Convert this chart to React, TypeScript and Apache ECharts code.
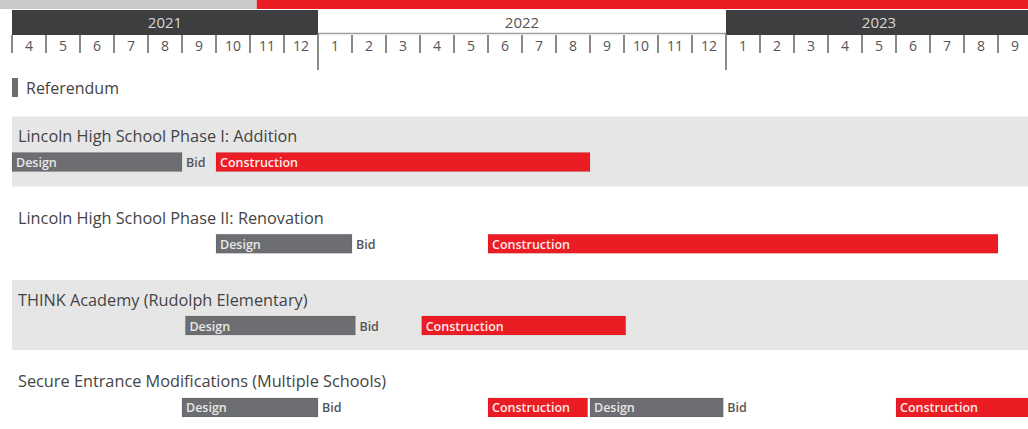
import React, { useEffect, useRef } from 'react';
import * as echarts from 'echarts';

// ---------- data ----------
const months = ['4', '5', '6', '7', '8', '9', '10', '11', '12', '1', '2', '3', '4', '5', '6', '7', '8', '9', '10', '11', '12', '1', '2', '3', '4', '5', '6', '7', '8', '9'];
const years = ['2021', '2022', '2023'];
const yearStart = [0, 9, 21];
const yearEnd = [9, 21, 30];
const referendumProgress = 7.2; // months since Apr 2021

const projects = [
  'Lincoln High School Phase I: Addition',
  'Lincoln High School Phase II: Renovation',
  'THINK Academy (Rudolph Elementary)',
  'Secure Entrance Modifications (Multiple Schools)',
];

// month offsets from April 2021
const designRow = [0, 1, 2, 3, 3];
const designStart = [0, 6, 5.1, 5, 17];
const designEnd = [5, 10, 10.1, 9, 20.92];

const constructionRow = [0, 1, 2, 3, 3];
const constructionStart = [6, 14, 12.05, 14, 26];
const constructionEnd = [17, 29, 18.05, 16.93, 30];

// ---------- style ----------
const FONT = '"Open Sans", "Noto Sans", sans-serif';
const GRAY_BAR = '#6d6e71';
const RED = '#ec1c24';
const DARK = '#3e3e40';
const BAND = '#e6e6e6';
const TEXT = '#444444';

export default function App() {
  const ref = useRef<HTMLDivElement>(null);

  useEffect(() => {
    if (!ref.current) return;
    const chart = echarts.init(ref.current, undefined, { renderer: 'svg' });

    const rowBandHeight = 70;
    const barOffset = 35;
    const barHeight = 19;

    const rowTop = (api: any, row: number, x: number) => {
      const c = api.coord([x, row]);
      const bh = api.size([0, 1])[1];
      return [c[0], c[1] - bh / 2];
    };

    const taskRender = (label: string, color: string, labelColor: string, withBid: boolean) => (params: any, api: any) => {
      const row = api.value(2);
      const s = rowTop(api, row, api.value(0));
      const e = rowTop(api, row, api.value(1));
      const top = s[1] + barOffset;
      const children: any[] = [
        {
          type: 'rect',
          shape: { x: s[0], y: top, width: e[0] - s[0], height: barHeight },
          style: { fill: color, stroke: 'rgba(0,0,0,0.08)', lineWidth: 1 },
        },
        {
          type: 'text',
          x: s[0] + 4,
          y: top + barHeight / 2 + 0.5,
          style: { text: label, fill: labelColor, fontSize: 12.5, fontWeight: 600, fontFamily: FONT, align: 'left', verticalAlign: 'middle' },
        },
      ];
      if (withBid) {
        children.push({
          type: 'text',
          x: e[0] + 4,
          y: top + barHeight / 2 + 0.5,
          style: { text: 'Bid', fill: '#555555', fontSize: 12.5, fontWeight: 600, fontFamily: FONT, align: 'left', verticalAlign: 'middle' },
        });
      }
      return { type: 'group', children };
    };

    const option: any = {
      animation: false,
      backgroundColor: '#ffffff',
      legend: {
        left: 12,
        top: 78,
        padding: 0,
        icon: 'rect',
        itemWidth: 6,
        itemHeight: 19,
        selectedMode: false,
        data: [{ name: 'Referendum', itemStyle: { color: GRAY_BAR } }],
        textStyle: { fontSize: 16, color: TEXT, fontFamily: FONT, padding: [0, 0, 0, 3] },
      },
      grid: [
        { left: 12, width: 1020, top: 117.5, height: 311.5, outerBoundsMode: 'none', containLabel: false },
        { left: 12, width: 1020, top: 35, height: 18, outerBoundsMode: 'none', containLabel: false },
      ],
      xAxis: [
        { type: 'value', gridIndex: 0, min: 0, max: 30, show: false },
        {
          type: 'category',
          gridIndex: 1,
          position: 'top',
          data: months,
          boundaryGap: true,
          axisLine: { show: false, onZero: false },
          axisTick: { show: true, inside: true, length: 18, interval: 0, lineStyle: { color: '#8a8a8a', width: 2 } },
          axisLabel: {
            inside: true,
            interval: 0,
            margin: 10,
            verticalAlign: 'middle',
            color: '#555555',
            fontSize: 14,
            fontFamily: FONT,
          },
          splitLine: { show: false },
        },
        { type: 'value', gridIndex: 1, min: 0, max: 30, show: false },
      ],
      yAxis: [
        { type: 'value', gridIndex: 0, min: -0.5, max: 3.308, inverse: true, show: false },
        { type: 'value', gridIndex: 1, min: 0, max: 1, show: false },
      ],
      series: [
        {
          type: 'custom',
          name: 'rows',
          xAxisIndex: 0,
          yAxisIndex: 0,
          silent: true,
          data: projects.map((name, i) => ({ name, value: [0, i] })),
          renderItem: (params: any, api: any) => {
            const row = api.value(1);
            const t = rowTop(api, row, 0);
            const children: any[] = [];
            if (row % 2 === 0) {
              children.push({
                type: 'rect',
                shape: { x: t[0], y: t[1] - 1, width: params.coordSys.width + 10, height: rowBandHeight },
                style: { fill: BAND },
              });
            }
            children.push({
              type: 'text',
              x: t[0] + 6,
              y: t[1] + 18.5,
              style: { text: projects[row], fill: TEXT, fontSize: 16.3, fontFamily: FONT, align: 'left', verticalAlign: 'middle' },
            });
            return { type: 'group', children };
          },
        },
        {
          type: 'custom',
          name: 'Design',
          xAxisIndex: 0,
          yAxisIndex: 0,
          silent: true,
          data: designStart.map((s, i) => [s, designEnd[i], designRow[i]]),
          renderItem: taskRender('Design', GRAY_BAR, '#e8e8e8', true),
        },
        {
          type: 'custom',
          name: 'Construction',
          xAxisIndex: 0,
          yAxisIndex: 0,
          silent: true,
          data: constructionStart.map((s, i) => [s, constructionEnd[i], constructionRow[i]]),
          renderItem: taskRender('Construction', RED, '#fbeaea', false),
        },
        {
          type: 'custom',
          name: 'Referendum',
          xAxisIndex: 2,
          yAxisIndex: 1,
          silent: true,
          data: [[referendumProgress, 0]],
          renderItem: (params: any, api: any) => {
            const p = api.coord([api.value(0), 0]);
            const gy = params.coordSys.y;
            return {
              type: 'group',
              children: [
                { type: 'rect', shape: { x: 0, y: gy - 35, width: p[0], height: 9 }, style: { fill: '#c9c9c9' } },
                { type: 'rect', shape: { x: p[0], y: gy - 35, width: 1100, height: 9 }, style: { fill: RED } },
              ],
            };
          },
        },
        {
          type: 'custom',
          name: 'years',
          xAxisIndex: 2,
          yAxisIndex: 1,
          silent: true,
          data: years.map((y, i) => ({ name: y, value: [yearStart[i], yearEnd[i], i] })),
          renderItem: (params: any, api: any) => {
            const idx = api.value(2);
            const s = api.coord([api.value(0), 0]);
            const e = api.coord([api.value(1), 0]);
            const gy = params.coordSys.y;
            const dark = idx % 2 === 0;
            const children: any[] = [
              {
                type: 'rect',
                shape: { x: s[0], y: gy - 25, width: e[0] - s[0], height: 25 },
                style: { fill: dark ? DARK : '#ffffff' },
              },
            ];
            if (!dark) {
              children.push({
                type: 'line',
                shape: { x1: s[0], y1: gy - 1.5, x2: e[0], y2: gy - 1.5 },
                style: { stroke: '#a0a0a0', lineWidth: 1.5 },
              });
            }
            children.push({
              type: 'text',
              x: (s[0] + e[0]) / 2,
              y: gy - 13,
              style: {
                text: years[idx],
                fill: dark ? '#d6d6d6' : '#555555',
                fontSize: 15,
                fontFamily: FONT,
                align: 'center',
                verticalAlign: 'middle',
              },
            });
            if (idx > 0) {
              children.push({
                type: 'line',
                shape: { x1: s[0], y1: gy - 1, x2: s[0], y2: gy + 35 },
                style: { stroke: '#8a8a8a', lineWidth: 2 },
              });
            }
            return { type: 'group', children };
          },
        },
      ],
    };

    chart.setOption(option);
    return () => chart.dispose();
  }, []);

  return (
    <div
      ref={ref}
      style={{ position: 'fixed', left: 0, top: 0, width: 1028, height: 429, background: '#ffffff' }}
    />
  );
}
